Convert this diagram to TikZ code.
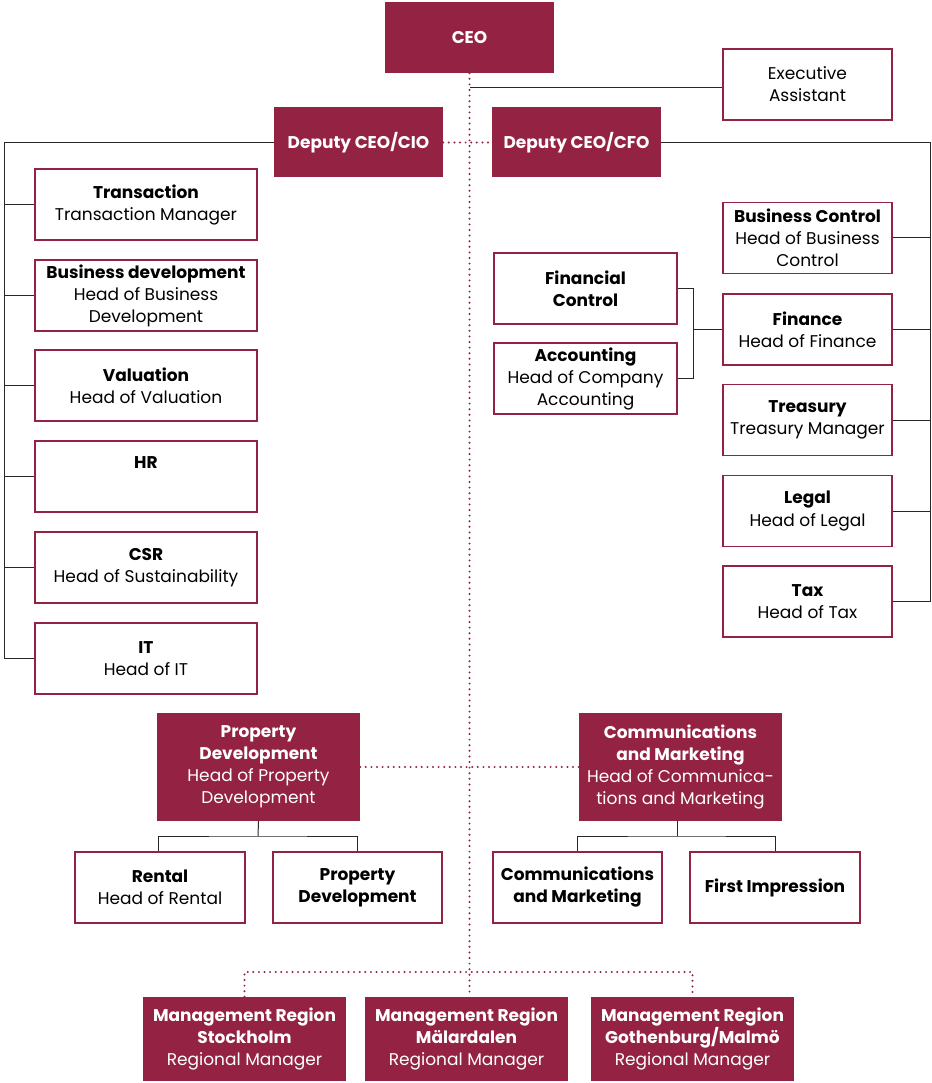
\documentclass[tikz,border=0pt]{standalone}
\usepackage{fontspec}
\setmainfont{Poppins}
\definecolor{maroon}{RGB}{148,34,66}
\definecolor{linkgray}{RGB}{40,40,40}
\tikzset{
  orgfont/.style={font=\fontsize{17}{22}\selectfont},
  headbox/.style={orgfont, fill=maroon, text=white, align=center, inner sep=0pt, minimum height=71pt},
  unitbox/.style={orgfont, draw=maroon, line width=1.8pt, fill=white, text=black, align=center, inner sep=0pt, minimum height=71pt},
  link/.style={draw=linkgray, line width=1pt},
  dots/.style={draw=maroon, line width=2.2pt, dash pattern=on 0pt off 5.6pt, line cap=round},
}
\begin{document}
\begin{tikzpicture}[x=1pt, y=-1pt]
  \useasboundingbox (0,0) rectangle (931,1083);

  % Top level
  \node[headbox, minimum width=169pt] (ceo) at (469.5,37.5) {\textbf{CEO}};
  \node[unitbox, minimum width=169pt] (exec) at (807.5,84.5) {Executive\\Assistant};
  \node[headbox, minimum width=169pt, minimum height=70pt] (cio) at (358.5,142.5) {\textbf{Deputy CEO/CIO}};
  \node[headbox, minimum width=169pt, minimum height=70pt] (cfo) at (576.5,142.5) {\textbf{Deputy CEO/CFO}};

  % CIO units
  \node[unitbox, minimum width=222pt] (trans) at (146,204.5) {\textbf{Transaction}\\Transaction Manager};
  \node[unitbox, minimum width=222pt] (busdev) at (146,295.5) {\textbf{Business development}\\Head of Business\\Development};
  \node[unitbox, minimum width=222pt] (valu) at (146,385.5) {\textbf{Valuation}\\Head of Valuation};
  \node[unitbox, minimum width=222pt] (hr) at (146,476.5) {\textbf{HR}\\\strut};
  \node[unitbox, minimum width=222pt] (csr) at (146,567.5) {\textbf{CSR}\\Head of Sustainability};
  \node[unitbox, minimum width=222pt] (it) at (146,658.5) {\textbf{IT}\\Head of IT};

  % CFO units
  \node[unitbox, minimum width=169pt] (busctrl) at (807.5,238) {\textbf{Business Control}\\Head of Business\\Control};
  \node[unitbox, minimum width=169pt] (finance) at (807.5,329.5) {\textbf{Finance}\\Head of Finance};
  \node[unitbox, minimum width=169pt] (treas) at (807.5,420) {\textbf{Treasury}\\Treasury Manager};
  \node[unitbox, minimum width=169pt] (legal) at (807.5,511) {\textbf{Legal}\\Head of Legal};
  \node[unitbox, minimum width=169pt] (tax) at (807.5,601.5) {\textbf{Tax}\\Head of Tax};
  \node[unitbox, minimum width=183pt] (finctrl) at (585.5,288.5) {\textbf{Financial}\\\textbf{Control}};
  \node[unitbox, minimum width=183pt] (acc) at (585.5,378.5) {\textbf{Accounting}\\Head of Company\\Accounting};

  % Property and communications
  \node[headbox, minimum width=203pt, minimum height=108pt] (pdhead) at (258.5,767) {\textbf{Property}\\\textbf{Development}\\Head of Property\\Development};
  \node[headbox, minimum width=203pt, minimum height=108pt] (cmhead) at (680.5,767) {\textbf{Communications}\\\textbf{and Marketing}\\Head of Communica-\\tions and Marketing};
  \node[unitbox, minimum width=170pt] (rental) at (160,887.5) {\textbf{Rental}\\Head of Rental};
  \node[unitbox, minimum width=169pt] (propdev) at (357.5,887.5) {\textbf{Property}\\\textbf{Development}};
  \node[unitbox, minimum width=169pt] (commark) at (577.5,887.5) {\textbf{Communications}\\\textbf{and Marketing}};
  \node[unitbox, minimum width=170pt] (firstimp) at (775,887.5) {\textbf{First Impression}};

  % Regions
  \node[headbox, minimum width=203pt, minimum height=84pt] (stock) at (244.5,1039) {\textbf{Management Region}\\\textbf{Stockholm}\\Regional Manager};
  \node[headbox, minimum width=203pt, minimum height=84pt] (malar) at (466.5,1039) {\textbf{Management Region}\\\textbf{Mälardalen}\\Regional Manager};
  \node[headbox, minimum width=203pt, minimum height=84pt] (goth) at (692.5,1039) {\textbf{Management Region}\\\textbf{Gothenburg/Malmö}\\Regional Manager};

  % Dotted reporting lines
  \draw[dots] (ceo.south) -- (ceo.south |- malar.north);
  \draw[dots] (cio.east) -- (cfo.west);
  \draw[dots] (pdhead.east) -- (cmhead.west);
  \coordinate (regbus) at (469,972);
  \draw[dots] (stock.north) |- (regbus) -| (goth.north);

  % Solid connectors
  \draw[link] (exec.west |- 0,88) -- (ceo.south |- 0,88);
  \coordinate (lbar) at (4,0);
  \draw[link] (cio.west) -- (cio.west -| lbar) |- (it.west);
  \foreach \n in {trans,busdev,valu,hr,csr}
    \draw[link] (\n.west) -- (\n.west -| lbar);
  \coordinate (rbar) at (930,0);
  \draw[link] (cfo.east) -- (cfo.east -| rbar) |- (tax.east);
  \foreach \n in {busctrl,finance,treas,legal}
    \draw[link] (\n.east) -- (\n.east -| rbar);
  \coordinate (finbus) at (693,0);
  \draw[link] (finctrl.east) -- (finctrl.east -| finbus) |- (acc.east);
  \draw[link] (finance.west) -- (finance.west -| finbus);

  \coordinate (pdbus) at (258,836);
  \draw[link] (pdhead.south) -- (pdbus);
  \draw[link] (rental.north -| 158,0) |- (pdbus) -| (propdev.north);
  \coordinate (cmbus) at (677,836);
  \draw[link] (cmhead.south -| cmbus) -- (cmbus);
  \draw[link] (commark.north) |- (cmbus) -| (firstimp.north);
\end{tikzpicture}
\end{document}
